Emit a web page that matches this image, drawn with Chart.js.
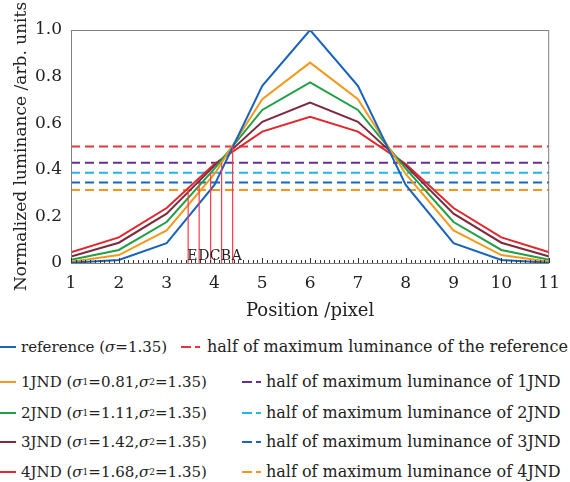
<!DOCTYPE html>
<html>
<head>
<meta charset="utf-8">
<script src="https://cdn.jsdelivr.net/npm/chart.js@4.4.1/dist/chart.umd.min.js"></script>
<style>
  html, body { margin: 0; padding: 0; background: #fff; }
  body { width: 570px; height: 482px; position: relative; overflow: hidden; font-family: 'DejaVu Serif', serif; color: #222; }
  #chartBox { position: absolute; left: 0; top: 0; width: 570px; height: 330px; }
  .lg { position: absolute; display: flex; align-items: center; white-space: nowrap; font-size: 15px; line-height: 18px; }
  .lg.half { font-size: 16px; }
  .lg .solid { display: inline-block; width: 16px; height: 2px; margin-right: 5px; }
  .lg .dash { display: inline-block; height: 2px; }
  .lg sub { font-size: 9px; vertical-align: -4px; line-height: 0; }
</style>
</head>
<body>
<div id="chartBox"><canvas id="chart"></canvas></div>
<div id="legend"></div>
<script>
// ---- data ----
const positions = [1, 2, 3, 4, 5, 6, 7, 8, 9, 10, 11];
const reference = [0.001, 0.013, 0.085, 0.335, 0.76, 1.0, 0.76, 0.335, 0.085, 0.013, 0.001];
const jnd1 = [0.005, 0.034, 0.14, 0.382, 0.703, 0.86, 0.703, 0.382, 0.14, 0.034, 0.005];
const jnd2 = [0.014, 0.056, 0.176, 0.405, 0.657, 0.775, 0.657, 0.405, 0.176, 0.056, 0.014];
const jnd3 = [0.028, 0.087, 0.212, 0.418, 0.606, 0.689, 0.606, 0.418, 0.212, 0.087, 0.028];
const jnd4 = [0.046, 0.11, 0.236, 0.425, 0.564, 0.627, 0.564, 0.425, 0.236, 0.11, 0.046];
const halfMax = [0.5, 0.43, 0.387, 0.345, 0.313];
const crossX = [4.38, 4.15, 3.92, 3.68, 3.45];
const crossLabels = ['A', 'B', 'C', 'D', 'E'];
const yTickLabels = ['0', '0.2', '0.4', '0.6', '0.8', '1.0'];

const curveNames = [
  'reference (<i>σ</i>=1.35)',
  '1JND (<i>σ</i><sub>1</sub>=0.81, <i>σ</i><sub>2</sub>=1.35)',
  '2JND (<i>σ</i><sub>1</sub>=1.11, <i>σ</i><sub>2</sub>=1.35)',
  '3JND (<i>σ</i><sub>1</sub>=1.42, <i>σ</i><sub>2</sub>=1.35)',
  '4JND (<i>σ</i><sub>1</sub>=1.68, <i>σ</i><sub>2</sub>=1.35)'
];
const halfNames = [
  'half of maximum luminance of the reference',
  'half of maximum luminance of 1JND',
  'half of maximum luminance of 2JND',
  'half of maximum luminance of 3JND',
  'half of maximum luminance of 4JND'
];

const Colors = {
  curves: ['#1763BE', '#F39A1E', '#20A046', '#7E2A3E', '#E2262C'],
  halves: ['#E8343B', '#66308F', '#25B4EA', '#1A66BF', '#F6961E'],
  marker: '#FF3A48',
  axis: '#808080'
};

const FONT = "'DejaVu Serif', serif";
const curves = [reference, jnd1, jnd2, jnd3, jnd4];

function toPoints(xs, ys) {
  return xs.map((x, i) => ({ x, y: ys[i] }));
}

// ---- datasets ----
const datasets = [];
crossX.forEach((x, i) => {
  datasets.push({
    data: [{ x, y: 0 }, { x, y: halfMax[i] }],
    borderColor: Colors.marker, borderWidth: 1.2
  });
});
curves.forEach((ys, i) => {
  datasets.push({ data: toPoints(positions, ys), borderColor: Colors.curves[i], borderWidth: 2 });
});
halfMax.forEach((h, i) => {
  datasets.push({
    data: [{ x: positions[0], y: h }, { x: positions[positions.length - 1], y: h }],
    borderColor: Colors.halves[i], borderWidth: 2, borderDash: [9, 5]
  });
});

// frame, inward x ticks (major + minor) and the A..E letters
const framePlugin = {
  id: 'frame',
  afterDatasetsDraw(chart) {
    const { ctx, chartArea: a, scales: { x, y } } = chart;
    ctx.save();
    ctx.strokeStyle = Colors.axis;
    ctx.lineWidth = 1;
    ctx.strokeRect(a.left + 0.5, a.top + 0.5, a.right - a.left - 1, a.bottom - a.top);
    ctx.strokeStyle = '#333';
    ctx.beginPath();
    for (let k = 10; k <= 110; k++) {
      const px = Math.round(x.getPixelForValue(k / 10)) + 0.5;
      const len = k % 10 === 0 ? 5 : 3;
      ctx.moveTo(px, a.bottom);
      ctx.lineTo(px, a.bottom - len);
    }
    ctx.stroke();
    ctx.fillStyle = '#222';
    ctx.font = '14px ' + FONT;
    ctx.textAlign = 'left';
    ctx.textBaseline = 'alphabetic';
    crossX.forEach((cx, i) => {
      ctx.fillText(crossLabels[i], x.getPixelForValue(cx) - 1, y.getPixelForValue(0) - 3);
    });
    ctx.restore();
  }
};

new Chart(document.getElementById('chart'), {
  type: 'line',
  data: { datasets },
  options: {
    responsive: true,
    maintainAspectRatio: false,
    animation: false,
    layout: { padding: { top: 30, right: 20, left: 0, bottom: 0 } },
    elements: { point: { radius: 0 }, line: { tension: 0 } },
    plugins: { legend: { display: false }, tooltip: { enabled: false } },
    scales: {
      x: {
        type: 'linear', min: 1, max: 11,
        grid: { display: false, drawTicks: false },
        border: { display: false },
        ticks: { stepSize: 1, padding: 10, color: '#222', font: { family: FONT, size: 17 } },
        title: { display: true, text: 'Position /pixel', color: '#222', font: { family: FONT, size: 18 }, padding: { top: 0, bottom: 8 } },
        afterFit(scale) { scale.height = 67; }
      },
      y: {
        min: 0, max: 1,
        grid: { display: false, drawTicks: false },
        border: { display: false },
        ticks: {
          stepSize: 0.2, padding: 9, color: '#222', font: { family: FONT, size: 17 },
          callback: (v, i) => yTickLabels[i]
        },
        title: { display: true, text: 'Normalized luminance /arb. units', color: '#222', font: { family: FONT, size: 17 }, padding: { top: 11, bottom: 0 } },
        afterFit(scale) { scale.width = 71; }
      }
    }
  },
  plugins: [framePlugin]
});

// ---- legend ----
const rowY = [347, 382, 413, 442, 472];
const halfX = [181, 242, 242, 242, 242];
const legend = document.getElementById('legend');
curveNames.forEach((name, i) => {
  const left = document.createElement('div');
  left.className = 'lg';
  left.style.left = '0px';
  left.style.top = (rowY[i] - 9) + 'px';
  left.innerHTML = '<span class="solid" style="background:' + Colors.curves[i] + '"></span>' + name;
  legend.appendChild(left);

  const right = document.createElement('div');
  right.className = 'lg half';
  right.style.left = halfX[i] + 'px';
  right.style.top = (rowY[i] - 9) + 'px';
  const c = Colors.halves[i];
  right.innerHTML = '<span class="dash" style="width:10px;background:' + c + '"></span>' +
    '<span class="dash" style="width:5px;margin-left:4px;margin-right:' + (i === 0 ? 7 : 5) + 'px;background:' + c + '"></span>' +
    halfNames[i];
  legend.appendChild(right);
});
</script>
</body>
</html>
